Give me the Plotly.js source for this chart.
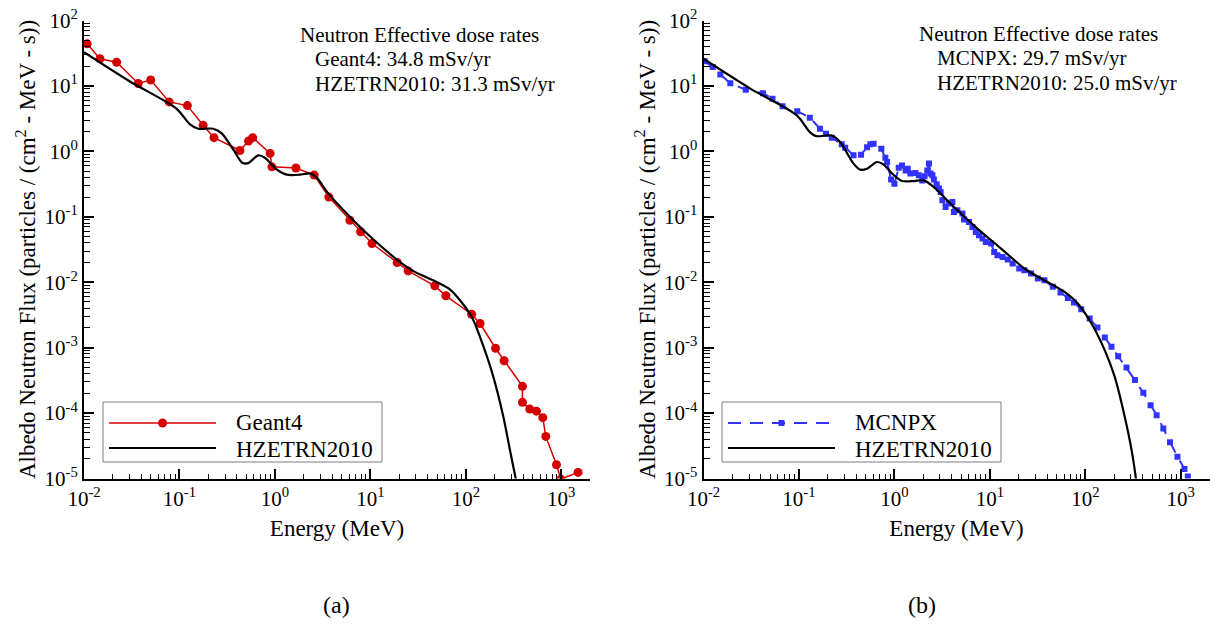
<!DOCTYPE html>
<html>
<head>
<meta charset="utf-8">
<script src="https://cdn.plot.ly/plotly-3.0.1.min.js"></script>
<style>html,body{margin:0;padding:0;background:#fff;}#chart{width:1210px;height:628px;}</style>
</head>
<body>
<div id="chart"></div>
<script>
// ---------- data ----------
const geant4Energy = [0.0108, 0.0147, 0.022, 0.037, 0.05, 0.078, 0.121, 0.177, 0.23, 0.43, 0.53, 0.585, 0.89, 0.93, 1.66, 2.58, 3.67, 6.1, 7.9, 10.4, 19.1, 24.9, 47.3, 61.8, 115, 141, 205, 252, 392, 392, 468, 550, 640, 688, 891, 990, 1500];
const geant4Flux = [44, 26, 23, 10.9, 12.3, 5.7, 5.0, 2.5, 1.62, 1.03, 1.44, 1.62, 0.93, 0.58, 0.556, 0.434, 0.2, 0.0885, 0.059, 0.039, 0.02, 0.0149, 0.0088, 0.0062, 0.00324, 0.00234, 0.00098, 0.00063, 0.000256, 0.000146, 0.000115, 0.000107, 0.000085, 0.000044, 0.0000162, 0.0000098, 0.0000124];

const hzeLeftEnergy = [0.01, 0.03, 0.093, 0.129, 0.157, 0.226, 0.277, 0.366, 0.455, 0.525, 0.668, 0.785, 1.04, 1.33, 1.83, 2.33, 2.73, 3.6, 7.16, 10.7, 18.8, 28, 49.3, 68, 93.8, 119, 152, 193, 246, 289, 331, 345];
const hzeLeftFlux = [32.8, 11.8, 4.5, 2.58, 2.22, 2.22, 1.88, 1.07, 0.67, 0.66, 0.87, 0.8, 0.53, 0.44, 0.44, 0.46, 0.40, 0.23, 0.079, 0.0453, 0.0224, 0.0149, 0.0101, 0.0078, 0.0046, 0.0027, 0.00107, 0.00037, 0.000091, 0.000028, 0.0000105, 0.000008];

const mcnpxEnergy = [0.0103, 0.0125, 0.015, 0.0191, 0.0277, 0.042, 0.0528, 0.0673, 0.096, 0.13, 0.166, 0.192, 0.221, 0.281, 0.305, 0.373, 0.447, 0.517, 0.559, 0.606, 0.73, 0.804, 0.838, 0.923, 1.0, 1.11, 1.2, 1.31, 1.38, 1.47, 1.66, 1.8, 1.96, 2.07, 2.21, 2.3, 2.39, 2.5, 2.59, 2.77, 2.93, 3.05, 3.18, 3.44, 3.73, 4.05, 4.2, 4.57, 5.16, 5.36, 6.05, 6.57, 7.13, 7.7, 8.37, 9.07, 10.3, 11.1, 12.0, 13.6, 15.4, 17.3, 20.3, 23, 27, 31.8, 37.3, 45.7, 55, 65.7, 76, 90.7, 111, 134, 160, 188, 221, 270, 331, 405, 483, 559, 657, 771, 923, 1093, 1185];
const mcnpxFlux = [23.9, 19.4, 15, 11, 8.75, 7.76, 6.38, 4.87, 4.12, 3.27, 2.22, 1.86, 1.62, 1.28, 1.14, 0.87, 0.89, 1.16, 1.28, 1.31, 1.1, 0.80, 0.69, 0.37, 0.32, 0.564, 0.61, 0.51, 0.544, 0.457, 0.467, 0.43, 0.36, 0.415, 0.51, 0.65, 0.457, 0.43, 0.37, 0.313, 0.27, 0.24, 0.179, 0.141, 0.159, 0.168, 0.118, 0.126, 0.112, 0.0906, 0.0832, 0.0698, 0.0586, 0.0521, 0.0464, 0.0412, 0.0389, 0.029, 0.0258, 0.0243, 0.0222, 0.0193, 0.0162, 0.0152, 0.0136, 0.0114, 0.0107, 0.0085, 0.00697, 0.00575, 0.0049, 0.00387, 0.00279, 0.00203, 0.00143, 0.00103, 0.00074, 0.000499, 0.000319, 0.000204, 0.000132, 0.000093, 0.000058, 0.0000357, 0.0000215, 0.000014, 0.0000107];

const hzeRightEnergy = [0.01, 0.03, 0.095, 0.13, 0.151, 0.221, 0.27, 0.373, 0.44, 0.516, 0.658, 0.77, 0.946, 1.2, 1.6, 2.03, 2.59, 3.88, 7.4, 13.1, 23, 34.4, 60.6, 83.7, 116, 160, 203, 259, 305, 339, 345];
const hzeRightFlux = [26, 9.35, 3.55, 1.97, 1.71, 1.75, 1.39, 0.65, 0.525, 0.544, 0.687, 0.63, 0.457, 0.352, 0.352, 0.36, 0.285, 0.158, 0.066, 0.0327, 0.0162, 0.0114, 0.0071, 0.0047, 0.00234, 0.00091, 0.00036, 0.000087, 0.0000274, 0.00001, 0.000008];

const xTickVals = [0.01, 0.1, 1, 10, 100, 1000];
const xTickText = ['10<sup>-2</sup>', '10<sup>-1</sup>', '10<sup>0</sup>', '10<sup>1</sup>', '10<sup>2</sup>', '10<sup>3</sup>'];
const yTickVals = [1e-5, 1e-4, 1e-3, 1e-2, 1e-1, 1, 10, 100];
const yTickText = ['10<sup>-5</sup>', '10<sup>-4</sup>', '10<sup>-3</sup>', '10<sup>-2</sup>', '10<sup>-1</sup>', '10<sup>0</sup>', '10<sup>1</sup>', '10<sup>2</sup>'];

const doseTitle = 'Neutron Effective dose rates';
const doseLeft = ['Geant4: 34.8 mSv/yr', 'HZETRN2010: 31.3 mSv/yr'];
const doseRight = ['MCNPX: 29.7 mSv/yr', 'HZETRN2010: 25.0 mSv/yr'];

// ---------- styling ----------
const FONT = "'Liberation Serif', 'Times New Roman', Times, serif";
const RED = '#d40000';
const BLUE = '#3232ff';
const W = 1210, H = 628;
const px = v => v / W;
const py = v => 1 - v / H;

function minorVals(lo, hi) {
  const out = [];
  for (let e = lo; e < hi; e++) for (let k = 2; k <= 9; k++) out.push(k * Math.pow(10, e));
  return out;
}

function xAxis(domain, anchor) {
  return {
    type: 'log', range: [-2, 3.301], domain: domain, anchor: anchor,
    tickmode: 'array', tickvals: xTickVals, ticktext: xTickText,
    ticks: 'inside', ticklen: 10, tickwidth: 2, tickcolor: '#000',
    minor: {tickmode: 'array', tickvals: minorVals(-2, 4), ticks: 'inside', ticklen: 5, tickwidth: 1, tickcolor: '#000', showgrid: false},
    showline: true, linewidth: 2, linecolor: '#000', showgrid: false, zeroline: false,
    tickfont: {family: FONT, size: 21, color: '#000'},
    title: {text: 'Energy (MeV)', font: {family: FONT, size: 23, color: '#000'}, standoff: 10},
    automargin: false
  };
}
function yAxis(anchor) {
  return {
    type: 'log', range: [-5, 2], domain: [1 - 478.5 / H, 1 - 20.5 / H], anchor: anchor,
    tickmode: 'array', tickvals: yTickVals, ticktext: yTickText,
    ticks: 'inside', ticklen: 10, tickwidth: 2, tickcolor: '#000',
    minor: {tickmode: 'array', tickvals: minorVals(-5, 2), ticks: 'inside', ticklen: 6, tickwidth: 1, tickcolor: '#000', showgrid: false},
    showline: true, linewidth: 2, linecolor: '#000', showgrid: false, zeroline: false,
    tickfont: {family: FONT, size: 21, color: '#000'},
    title: {text: 'Albedo Neutron Flux (particles / (cm<sup>2</sup> - MeV - s))', font: {family: FONT, size: 23, color: '#000'}, standoff: 2},
    automargin: false
  };
}

const traces = [
  {x: geant4Energy, y: geant4Flux, xaxis: 'x', yaxis: 'y', mode: 'lines+markers', name: 'Geant4',
   line: {color: RED, width: 1.5}, marker: {color: RED, size: 9, symbol: 'circle'}},
  {x: hzeLeftEnergy, y: hzeLeftFlux, xaxis: 'x', yaxis: 'y', mode: 'lines', name: 'HZETRN2010',
   line: {color: '#000', width: 2.2, shape: 'spline', smoothing: 0.8}},
  {x: mcnpxEnergy, y: mcnpxFlux, xaxis: 'x2', yaxis: 'y2', mode: 'lines+markers', name: 'MCNPX',
   line: {color: BLUE, width: 2, dash: '12px,9px'}, marker: {color: BLUE, size: 6, symbol: 'square'}},
  {x: hzeRightEnergy, y: hzeRightFlux, xaxis: 'x2', yaxis: 'y2', mode: 'lines', name: 'HZETRN2010',
   line: {color: '#000', width: 2.2, shape: 'spline', smoothing: 0.8}}
];

function txt(x, y, text, size, anchor) {
  return {xref: 'paper', yref: 'paper', x: px(x), y: py(y), text: text, showarrow: false,
    xanchor: anchor || 'left', yanchor: 'middle', font: {family: FONT, size: size, color: '#000'}};
}

const annotations = [
  txt(298, 35, doseTitle, 21), txt(313, 59, doseLeft[0], 21), txt(313, 84, doseLeft[1], 21),
  txt(917, 34, doseTitle, 21), txt(935, 58, doseRight[0], 21), txt(935, 83, doseRight[1], 21),
  txt(234, 422, 'Geant4', 23), txt(234, 449, 'HZETRN2010', 23),
  txt(853, 422, 'MCNPX', 23), txt(853, 449, 'HZETRN2010', 23),
  txt(336, 605, '(a)', 24, 'center'), txt(922, 605, '(b)', 24, 'center')
];

function rect(x0, y0, x1, y1) {
  return {type: 'rect', xref: 'paper', yref: 'paper', x0: px(x0), x1: px(x1), y0: py(y1), y1: py(y0),
    line: {color: '#7f7f7f', width: 1}, fillcolor: 'rgba(255,255,255,1)', layer: 'above'};
}
function hline(x0, x1, y, color, width, dash) {
  return {type: 'line', xref: 'paper', yref: 'paper', x0: px(x0), x1: px(x1), y0: py(y), y1: py(y),
    line: {color: color, width: width, dash: dash || 'solid'}, layer: 'above'};
}
const shapes = [
  rect(103, 402, 382, 462),
  hline(109, 216, 423, RED, 1.5),
  {type: 'circle', xref: 'paper', yref: 'paper', x0: px(158), x1: px(167), y0: py(427.5), y1: py(418.5), fillcolor: RED, line: {color: RED, width: 0}, layer: 'above'},
  hline(109, 216, 448, '#000', 2.2),
  rect(722, 402, 1001, 462),
  hline(728, 835, 423, BLUE, 2, '13px,9px'),
  {type: 'rect', xref: 'paper', yref: 'paper', x0: px(778.5), x1: px(784.5), y0: py(426), y1: py(420), fillcolor: BLUE, line: {color: BLUE, width: 0}, layer: 'above'},
  hline(728, 835, 448, '#000', 2.2)
];

const layout = {
  width: W, height: H, margin: {l: 0, r: 0, t: 0, b: 0},
  paper_bgcolor: '#fff', plot_bgcolor: 'rgba(0,0,0,0)', showlegend: false,
  font: {family: FONT, color: '#000'},
  xaxis: xAxis([84 / W, 590 / W], 'y'),
  yaxis: yAxis('x'),
  xaxis2: xAxis([703.5 / W, 1209.5 / W], 'y2'),
  yaxis2: yAxis('x2'),
  annotations: annotations,
  shapes: shapes
};

Plotly.newPlot('chart', traces, layout, {displayModeBar: false, staticPlot: true});
</script>
</body>
</html>
